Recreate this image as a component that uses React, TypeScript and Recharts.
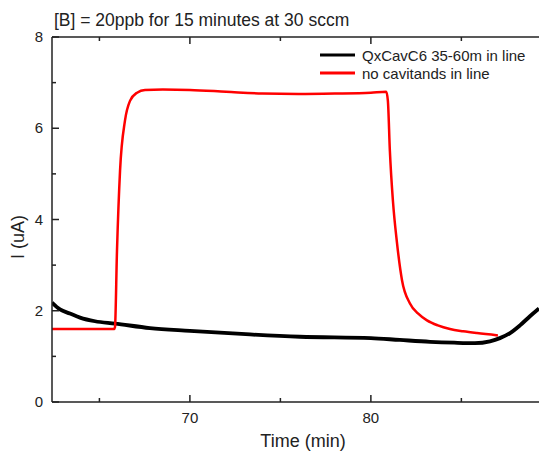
import { LineChart, Line, XAxis, YAxis } from 'recharts';

// black trace: QxCavC6 35-60m in line
const blackTime = [
  62.38, 62.82, 63.37, 63.93, 64.76, 65.86, 67.79, 70.0, 73.32, 76.08, 80.0, 81.6, 83.27, 84.6,
  85.75, 86.58, 87.13, 87.69, 88.24, 88.79, 89.29,
];
const blackCurrent = [
  2.18, 2.03, 1.94, 1.85, 1.77, 1.72, 1.62, 1.56, 1.48, 1.43, 1.4, 1.36, 1.32, 1.3, 1.29, 1.33,
  1.4, 1.51, 1.68, 1.88, 2.05,
];

// red trace: no cavitands in line
const redTime = [
  62.38, 64.0, 65.81, 65.86, 65.97, 66.14, 66.41, 66.69, 67.08, 67.52, 68.5, 70.0, 72.0, 74.0,
  76.0, 78.0, 80.0, 80.85, 80.94, 81.05, 81.22, 81.44, 81.72, 82.16, 82.6, 83.1, 83.7, 84.37,
  85.1, 85.86, 87.02,
];
const redCurrent = [
  1.6, 1.6, 1.6, 1.64, 3.3, 5.07, 6.16, 6.6, 6.78, 6.84, 6.85, 6.84, 6.8, 6.76, 6.75, 6.76, 6.78,
  6.8, 6.6, 5.5, 4.4, 3.5, 2.67, 2.16, 1.94, 1.79, 1.68, 1.6, 1.55, 1.51, 1.46,
];

const xTicks = [65, 70, 75, 80, 85];
const yTicks = [0, 1, 2, 3, 4, 5, 6, 7, 8];

const legendItems = [
  { color: '#000', label: 'QxCavC6 35-60m in line' },
  { color: '#ff0000', label: 'no cavitands in line' },
];

const blackData = blackTime.map((t, i) => ({ t, v: blackCurrent[i] }));
const redData = redTime.map((t, i) => ({ t, v: redCurrent[i] }));

const FONT = '"Liberation Sans", Arial, sans-serif';
const INK = '#222';

function BottomTick({ x, y, payload }: any) {
  const major = payload.value % 10 === 0;
  return (
    <g>
      <line x1={x} x2={x} y1={y} y2={y - (major ? 7 : 4)} stroke={INK} strokeWidth={1.5} />
      {major && (
        <text x={x} y={y + 21} textAnchor="middle" fontSize={15} fill={INK} fontFamily={FONT}>
          {payload.value}
        </text>
      )}
    </g>
  );
}

function TopTick({ x, y, payload }: any) {
  const major = payload.value % 10 === 0;
  return <line x1={x} x2={x} y1={y} y2={y + (major ? 7 : 4)} stroke={INK} strokeWidth={1.5} />;
}

function LeftTick({ x, y, payload }: any) {
  const major = payload.value % 2 === 0;
  return (
    <g>
      <line x1={x} x2={x + (major ? 7 : 4)} y1={y} y2={y} stroke={INK} strokeWidth={1.5} />
      {major && (
        <text x={x - 9} y={y + 5} textAnchor="end" fontSize={15} fill={INK} fontFamily={FONT}>
          {payload.value}
        </text>
      )}
    </g>
  );
}

export default function App() {
  return (
    <div
      style={{
        position: 'absolute',
        left: 0,
        top: 0,
        width: 539,
        height: 453,
        overflow: 'hidden',
        background: '#fff',
        fontFamily: FONT,
      }}
    >
      <div
        style={{
          position: 'absolute',
          left: 54,
          top: 10,
          fontSize: 17.5,
          lineHeight: '20px',
          color: INK,
          whiteSpace: 'nowrap',
        }}
      >
        [B] = 20ppb for 15 minutes at 30 sccm
      </div>
      <div
        style={{
          position: 'absolute',
          left: 320,
          top: 46,
          fontSize: 15,
          color: INK,
          zIndex: 2,
        }}
      >
        {legendItems.map((r) => (
          <div key={r.label} style={{ display: 'flex', alignItems: 'center', height: 18 }}>
            <svg width={42} height={18}>
              <line x1={0} x2={35} y1={9} y2={9} stroke={r.color} strokeWidth={3} />
            </svg>
            <span style={{ whiteSpace: 'nowrap' }}>{r.label}</span>
          </div>
        ))}
      </div>
      <LineChart width={539} height={453} margin={{ top: 36, right: 0, bottom: 0, left: 0 }}>
        <XAxis
          xAxisId="bottom"
          dataKey="t"
          type="number"
          domain={[62.38, 89.29]}
          allowDataOverflow
          ticks={xTicks}
          height={51}
          tickSize={0}
          tickMargin={0}
          tickLine={false}
          axisLine={{ stroke: INK, strokeWidth: 1.5 }}
          tick={<BottomTick />}
          label={{
            content: () => (
              <text x={303} y={447} textAnchor="middle" fontSize={18} fill={INK} fontFamily={FONT}>
                Time (min)
              </text>
            ),
          }}
        />
        <XAxis
          xAxisId="top"
          orientation="top"
          dataKey="t"
          type="number"
          domain={[62.38, 89.29]}
          allowDataOverflow
          ticks={xTicks}
          height={1}
          tickSize={0}
          tickMargin={0}
          tickLine={false}
          axisLine={{ stroke: INK, strokeWidth: 1.5 }}
          tick={<TopTick />}
        />
        <YAxis
          yAxisId={0}
          type="number"
          domain={[0, 8]}
          ticks={yTicks}
          width={52}
          tickSize={0}
          tickMargin={0}
          tickLine={false}
          axisLine={{ stroke: INK, strokeWidth: 1.5 }}
          tick={<LeftTick />}
          label={{
            content: () => (
              <text
                x={24}
                y={237}
                transform="rotate(-90 24 237)"
                textAnchor="middle"
                fontSize={18}
                fill={INK}
                fontFamily={FONT}
              >
                I (uA)
              </text>
            ),
          }}
        />
        <Line
          data={redData}
          dataKey="v"
          xAxisId="top"
          yAxisId={0}
          stroke="none"
          dot={false}
          activeDot={false}
          legendType="none"
          isAnimationActive={false}
        />
        <Line
          data={blackData}
          dataKey="v"
          xAxisId="bottom"
          yAxisId={0}
          stroke="#000"
          strokeWidth={3.8}
          dot={false}
          type="monotone"
          isAnimationActive={false}
        />
        <Line
          data={redData}
          dataKey="v"
          xAxisId="bottom"
          yAxisId={0}
          stroke="#ff0000"
          strokeWidth={2.5}
          dot={false}
          type="monotone"
          isAnimationActive={false}
        />
      </LineChart>
    </div>
  );
}
